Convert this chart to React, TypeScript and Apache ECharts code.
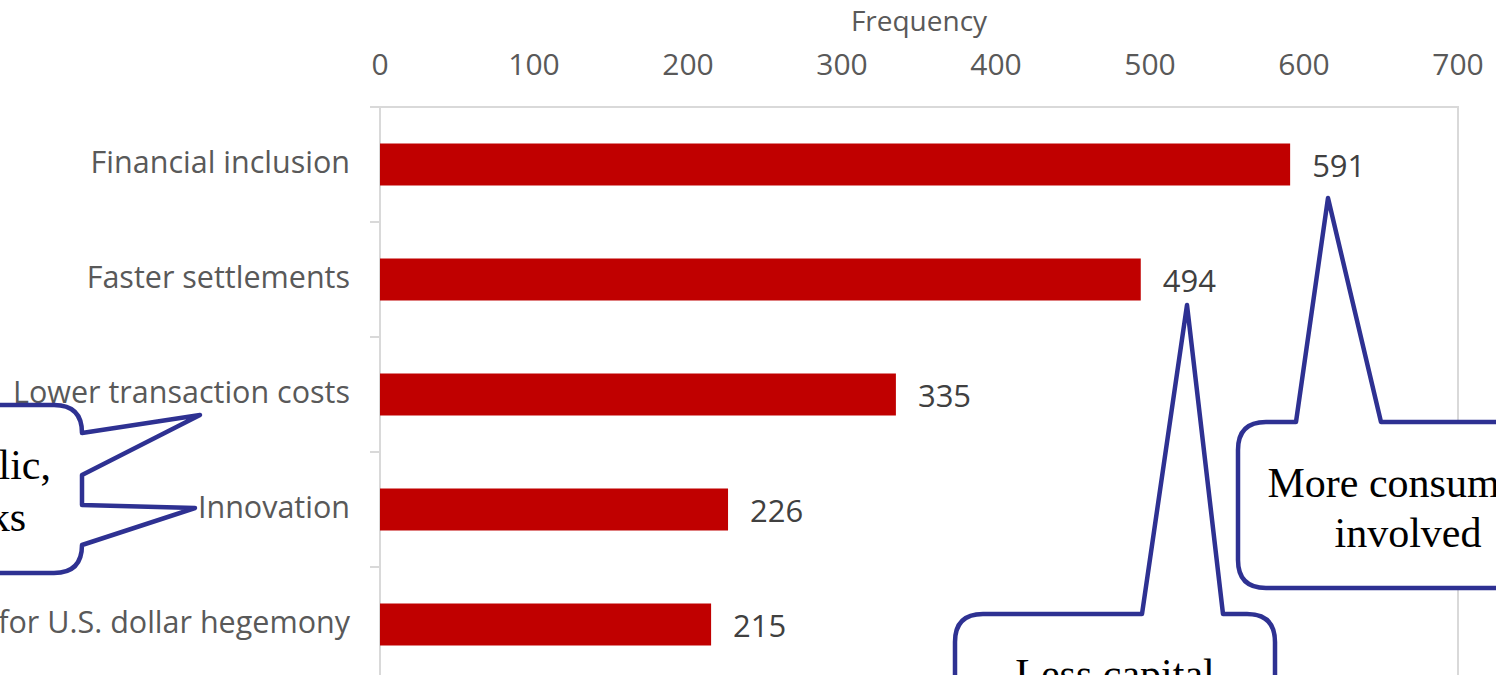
import React, { useEffect, useRef } from "react";
import * as echarts from "echarts";

// Survey answers, top to bottom
const categories = [
  "Financial inclusion",
  "Faster settlements",
  "Lower transaction costs",
  "Innovation",
  "Alternative for U.S. dollar hegemony",
];
const frequency = [591, 494, 335, 226, 215];

const axisMin = 0;
const axisMax = 700;
const axisStep = 100;

const calloutNotes = {
  right: ["More consumers", "involved"],
  bottom: ["Less capital"],
  left: ["public,", "banks"],
};

type Pointer = { side: "top" | "right"; a: number; b: number; tx: number; ty: number };

// Rounded box outline with triangular pointers, as an SVG path string
function calloutPath(x0: number, y0: number, x1: number, y1: number, r: number, pointers: Pointer[]) {
  const p: string[] = [];
  p.push(`M ${x0 + r} ${y0}`);
  pointers
    .filter((q) => q.side === "top")
    .sort((m, n) => m.a - n.a)
    .forEach((q) => {
      p.push(`L ${q.a} ${y0}`, `L ${q.tx} ${q.ty}`, `L ${q.b} ${y0}`);
    });
  p.push(`L ${x1 - r} ${y0}`, `Q ${x1} ${y0} ${x1} ${y0 + r}`);
  pointers
    .filter((q) => q.side === "right")
    .sort((m, n) => m.a - n.a)
    .forEach((q) => {
      p.push(`L ${x1} ${q.a}`, `L ${q.tx} ${q.ty}`, `L ${x1} ${q.b}`);
    });
  p.push(`L ${x1} ${y1 - r}`, `Q ${x1} ${y1} ${x1 - r} ${y1}`);
  p.push(`L ${x0 + r} ${y1}`, `Q ${x0} ${y1} ${x0} ${y1 - r}`);
  p.push(`L ${x0} ${y0 + r}`, `Q ${x0} ${y0} ${x0 + r} ${y0}`, "Z");
  return p.join(" ");
}

let registered = false;
function registerCallouts() {
  if (registered) return;
  registered = true;
  echarts.graphic.registerShape(
    "calloutRight",
    echarts.graphic.extendPath(
      calloutPath(1238, 422, 1578, 588, 28, [{ side: "top", a: 1296, b: 1381, tx: 1328, ty: 198 }]),
      {}
    )
  );
  echarts.graphic.registerShape(
    "calloutBottom",
    echarts.graphic.extendPath(
      calloutPath(955, 614, 1275, 790, 28, [{ side: "top", a: 1142, b: 1223, tx: 1187, ty: 305 }]),
      {}
    )
  );
  echarts.graphic.registerShape(
    "calloutLeft",
    echarts.graphic.extendPath(
      calloutPath(-260, 405, 82, 573, 28, [
        { side: "right", a: 433, b: 475, tx: 200, ty: 415 },
        { side: "right", a: 505, b: 545, tx: 195, ty: 508 },
      ]),
      {}
    )
  );
}

const NAVY = "#2E3192";
const calloutStyle = { fill: "#ffffff", stroke: NAVY, lineWidth: 4.5, lineJoin: "round" as const };
const noteFont = { fontFamily: "Liberation Serif", fontSize: 42, fill: "#000000" };

export default function App() {
  const ref = useRef<HTMLDivElement>(null);

  useEffect(() => {
    if (!ref.current) return;
    registerCallouts();
    const chart = echarts.init(ref.current, undefined, { renderer: "svg" });
    const sans = "Open Sans";
    chart.setOption({
      animation: false,
      backgroundColor: "#ffffff",
      grid: {
        left: 380,
        right: 38,
        top: 107,
        bottom: 18,
        outerBoundsMode: "none",
        containLabel: false,
        show: true,
        borderColor: "#d9d9d9",
        borderWidth: 2,
      },
      xAxis: {
        type: "value",
        position: "top",
        min: axisMin,
        max: axisMax,
        interval: axisStep,
        name: "Frequency",
        nameLocation: "middle",
        nameGap: 73,
        nameTextStyle: { color: "#595959", fontSize: 28, fontFamily: sans },
        axisLine: { show: true, lineStyle: { color: "#d9d9d9", width: 2 } },
        axisTick: { show: false },
        splitLine: { show: false },
        axisLabel: { color: "#595959", fontSize: 30, fontFamily: sans, margin: 29 },
      },
      yAxis: {
        type: "category",
        inverse: true,
        data: categories,
        axisLine: { show: true, lineStyle: { color: "#d9d9d9", width: 2 } },
        axisTick: { show: true, length: 10, lineStyle: { color: "#d9d9d9", width: 2 } },
        axisLabel: {
          color: "#595959",
          fontSize: 30.5,
          fontFamily: sans,
          margin: 30,
          verticalAlign: "bottom",
          lineHeight: 8,
        },
      },
      series: [
        {
          type: "bar",
          data: frequency,
          barWidth: 42,
          itemStyle: { color: "#C00000" },
          label: {
            show: true,
            position: "right",
            distance: 22,
            color: "#404040",
            fontSize: 31,
            fontFamily: sans,
          },
        },
      ],
      graphic: [
        { type: "calloutRight", x: 0, y: 0, z: 100, style: calloutStyle },
        { type: "calloutBottom", x: 0, y: 0, z: 100, style: calloutStyle },
        { type: "calloutLeft", x: 0, y: 0, z: 100, style: calloutStyle },
        {
          type: "text",
          x: 1408,
          y: 483,
          z: 101,
          style: { ...noteFont, text: calloutNotes.right[0], align: "center", verticalAlign: "middle" },
        },
        {
          type: "text",
          x: 1408,
          y: 533,
          z: 101,
          style: { ...noteFont, text: calloutNotes.right[1], align: "center", verticalAlign: "middle" },
        },
        {
          type: "text",
          x: 1115,
          y: 674,
          z: 101,
          style: { ...noteFont, text: calloutNotes.bottom[0], align: "center", verticalAlign: "middle" },
        },
        {
          type: "text",
          x: 51,
          y: 465,
          z: 101,
          style: { ...noteFont, text: calloutNotes.left[0], align: "right", verticalAlign: "middle" },
        },
        {
          type: "text",
          x: 26,
          y: 517,
          z: 101,
          style: { ...noteFont, text: calloutNotes.left[1], align: "right", verticalAlign: "middle" },
        },
      ],
    });
    return () => chart.dispose();
  }, []);

  return (
    <div
      style={{
        position: "fixed",
        left: 0,
        top: 0,
        width: 1496,
        height: 675,
        overflow: "hidden",
        background: "#ffffff",
      }}
    >
      <div ref={ref} style={{ width: 1496, height: 700 }} />
    </div>
  );
}
